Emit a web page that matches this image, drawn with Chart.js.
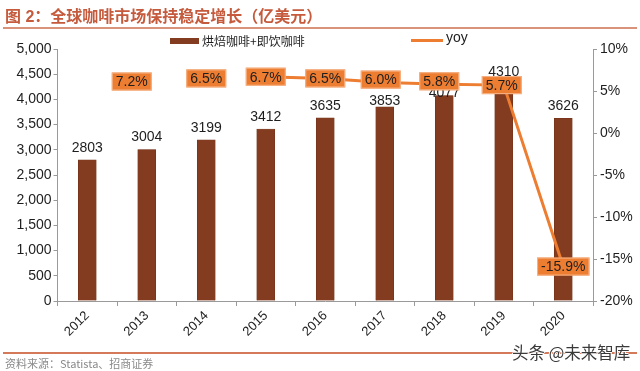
<!DOCTYPE html>
<html>
<head>
<meta charset="utf-8">
<script src="https://cdn.jsdelivr.net/npm/chart.js@4"></script>
<style>
  html, body { margin: 0; padding: 0; background: #fff; }
  #wrap { position: relative; width: 640px; height: 371px; overflow: hidden; font-family: 'Liberation Sans', Arial, 'Noto Sans CJK SC', sans-serif; }
  #title { position: absolute; left: 5px; top: 3px; font: bold 16px 'Liberation Sans', 'Noto Sans CJK SC', sans-serif; color: #C55A3C; white-space: nowrap; }
  #rule-top { position: absolute; left: 3px; right: 3px; top: 27px; height: 2px; background: #D9937A; }
  #rule-bottom { position: absolute; left: 3px; right: 3px; top: 352px; height: 2px; background: #D4795A; }
  #source { position: absolute; left: 5px; top: 355px; font: 11px 'Noto Sans CJK SC', sans-serif; color: #8a8a8a; white-space: nowrap; }
  #mark { position: absolute; left: 512px; top: 340px; font: 16.5px 'Noto Sans CJK SC', sans-serif; color: #3a3a3a;
          text-shadow: -1px 0 #fff, 1px 0 #fff, 0 -1px #fff, 0 1px #fff; white-space: nowrap; }
  canvas { position: absolute; left: 0; top: 0; }
</style>
</head>
<body>
<div id="wrap">
  <canvas id="chart" width="640" height="371"></canvas>
  <div id="title">图 2：全球咖啡市场保持稳定增长（亿美元）</div>
  <div id="rule-top"></div>
  <div id="rule-bottom"></div>
  <div id="source">资料来源：Statista、招商证券</div>
  <div id="mark">头条 @未来智库</div>
</div>
<script>
// ── Data ──
const years = ['2012', '2013', '2014', '2015', '2016', '2017', '2018', '2019', '2020'];
const coffeeSales = [2803, 3004, 3199, 3412, 3635, 3853, 4077, 4310, 3626];
const yoyGrowth = [null, 7.2, 6.5, 6.7, 6.5, 6.0, 5.8, 5.7, -15.9];
const barLabel = '烘焙咖啡+即饮咖啡';
const lineLabel = 'yoy';

// ── Styles ──
const BAR_COLOR = '#843C21';
const LINE_COLOR = '#ED7D31';
const AXIS_COLOR = '#9a9a9a';
const TEXT_COLOR = '#1e1e1e';
const LATIN = "'Liberation Sans', Arial, sans-serif";
const CJK = "'Noto Sans CJK SC', sans-serif";

// label nudges (px) where the source moved a label by hand
const barLabelNudge = { 5: 6, 6: 10 };
const yoyLabelNudge = { 1: [-15, 9], 5: [-4, -3], 6: [-5, -3], 7: [-2, 0] };

const labelPlugin = {
  id: 'labels',
  afterDatasetsDraw(chart) {
    const ctx = chart.ctx;
    ctx.save();

    // bar values
    const barMeta = chart.getDatasetMeta(0);
    ctx.font = `14px ${LATIN}`;
    ctx.fillStyle = TEXT_COLOR;
    ctx.textAlign = 'center';
    ctx.textBaseline = 'middle';
    barMeta.data.forEach((el, i) => {
      const dy = barLabelNudge[i] || 0;
      ctx.fillText(String(coffeeSales[i]), el.x, el.y - 12 + dy);
    });

    // yoy boxes
    const lineMeta = chart.getDatasetMeta(1);
    lineMeta.data.forEach((el, i) => {
      const v = yoyGrowth[i];
      if (v === null) return;
      const [dx, dy] = yoyLabelNudge[i] || [0, 0];
      const text = v.toFixed(1) + '%';
      const w = ctx.measureText(text).width + 8;
      const h = 18;
      const cx = el.x + dx, cy = el.y + dy;
      ctx.fillStyle = LINE_COLOR;
      ctx.fillRect(cx - w / 2, cy - h / 2, w, h);
      ctx.strokeStyle = '#F6B58A';
      ctx.lineWidth = 1;
      ctx.strokeRect(cx - w / 2 + 0.5, cy - h / 2 + 0.5, w - 1, h - 1);
      ctx.fillStyle = TEXT_COLOR;
      ctx.fillText(text, cx, cy + 1);
    });

    // legend
    ctx.textAlign = 'left';
    ctx.fillStyle = BAR_COLOR;
    ctx.fillRect(170, 38, 29, 6);
    ctx.fillStyle = TEXT_COLOR;
    ctx.font = `12px ${CJK}`;
    ctx.fillText(barLabel, 202, 41);
    ctx.strokeStyle = LINE_COLOR;
    ctx.lineWidth = 3;
    ctx.beginPath();
    ctx.moveTo(411, 40.5);
    ctx.lineTo(443, 40.5);
    ctx.stroke();
    ctx.font = `14px ${LATIN}`;
    ctx.fillText(lineLabel, 446, 38);

    ctx.restore();
  },
};

const tickFont = { family: LATIN, size: 14 };

new Chart(document.getElementById('chart'), {
  data: {
    labels: years,
    datasets: [
      {
        type: 'bar',
        label: barLabel,
        data: coffeeSales,
        backgroundColor: BAR_COLOR,
        borderColor: '#6e3118',
        borderWidth: 0.5,
        barThickness: 18,
        yAxisID: 'y',
        order: 1,
      },
      {
        type: 'line',
        label: lineLabel,
        data: yoyGrowth,
        borderColor: LINE_COLOR,
        borderWidth: 3,
        pointRadius: 0,
        tension: 0,
        spanGaps: false,
        yAxisID: 'y1',
        order: 0,
        segment: {
          borderColor: (c) => (c.p0DataIndex < 3 ? 'rgba(0,0,0,0)' : LINE_COLOR),
        },
      },
    ],
  },
  options: {
    responsive: false,
    animation: false,
    events: [],
    layout: { padding: { top: 49, left: 0, right: 0, bottom: 0 } },
    plugins: { legend: { display: false }, tooltip: { enabled: false } },
    scales: {
      x: {
        grid: { offset: true, drawOnChartArea: false, tickLength: 5, color: AXIS_COLOR },
        border: { color: AXIS_COLOR },
        ticks: { minRotation: 45, maxRotation: 45, color: TEXT_COLOR, font: { family: LATIN, size: 13 }, padding: 2 },
        afterFit: (s) => { s.height = 70; },
      },
      y: {
        position: 'left',
        min: 0, max: 5000,
        grid: { drawOnChartArea: false, tickLength: 4, color: AXIS_COLOR },
        border: { color: AXIS_COLOR },
        ticks: { stepSize: 500, color: TEXT_COLOR, font: tickFont, padding: 2,
                 callback: (v) => v.toLocaleString('en-US') },
        afterFit: (s) => { s.width = 57.5; },
      },
      y1: {
        position: 'right',
        min: -20, max: 10,
        grid: { drawOnChartArea: false, tickLength: 4, color: AXIS_COLOR },
        border: { color: AXIS_COLOR },
        ticks: { stepSize: 5, color: TEXT_COLOR, font: tickFont, padding: 3,
                 callback: (v) => v + '%' },
        afterFit: (s) => { s.width = 47; },
      },
    },
  },
  plugins: [labelPlugin],
});
</script>
</body>
</html>
